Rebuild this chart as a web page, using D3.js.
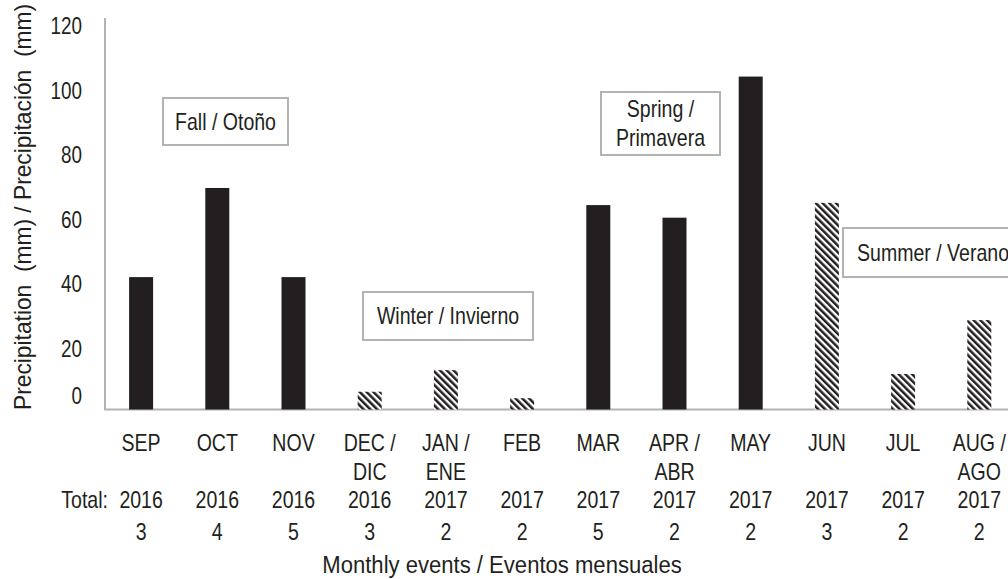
<!DOCTYPE html>
<html>
<head>
<meta charset="utf-8">
<script src="https://cdn.jsdelivr.net/npm/d3@7"></script>
<style>
  body { margin: 0; background: #fff; }
  text { font-family: "Liberation Sans", Arial, sans-serif; fill: #231f20; }
</style>
</head>
<body>
<script>
// data
var months = ["SEP", "OCT", "NOV", "DEC", "JAN", "FEB", "MAR", "APR", "MAY", "JUN", "JUL", "AUG"];
var monthLabels = [["SEP"], ["OCT"], ["NOV"], ["DEC /", "DIC"], ["JAN /", "ENE"], ["FEB"],
                   ["MAR"], ["APR /", "ABR"], ["MAY"], ["JUN"], ["JUL"], ["AUG /", "AGO"]];
var years = ["2016", "2016", "2016", "2016", "2017", "2017", "2017", "2017", "2017", "2017", "2017", "2017"];
var precipitation = [41, 68.6, 41, 5.5, 12.2, 3.5, 63.3, 59.4, 103.1, 64, 11, 27.7];
var events = [3, 4, 5, 3, 2, 2, 5, 2, 2, 3, 2, 2];
var seasons = ["fall", "fall", "fall", "winter", "winter", "winter",
               "spring", "spring", "spring", "summer", "summer", "summer"];
var yTicks = [0, 20, 40, 60, 80, 100, 120];

var width = 1008, height = 579;
var fontSize = 23;
var narrow = 0.85;   // the original uses a condensed face, squeeze text to match

var svg = d3.select("body")
            .append("svg")
            .attr("width", width)
            .attr("height", height);

// diagonal hatch for winter / summer bars
var pattern = svg.append("defs")
                 .append("pattern")
                 .attr("id", "hatch")
                 .attr("patternUnits", "userSpaceOnUse")
                 .attr("width", 4.8)
                 .attr("height", 4.8)
                 .attr("patternTransform", "rotate(-45)");
pattern.append("rect").attr("width", 4.8).attr("height", 4.8).attr("fill", "#fff");
pattern.append("rect").attr("width", 2.5).attr("height", 4.8).attr("fill", "#231f20");

var x = d3.scaleBand()
          .domain(months)
          .range([103, 1017.4])
          .padding(0);

var y = d3.scaleLinear()
          .domain([0, 120])
          .range([409.5, 22]);

var barW = x.bandwidth() * 0.315;
var cx = function (i) { return x(months[i]) + x.bandwidth() / 2; };
var squeeze = function (px, py, k) {
  return "translate(" + px + "," + py + ") scale(" + (k || narrow) + ",1)";
};

// axis lines
svg.append("line")
   .attr("x1", 105).attr("x2", 105)
   .attr("y1", 18).attr("y2", y(0))
   .attr("stroke", "#b3b3b3").attr("stroke-width", 2);

svg.append("line")
   .attr("x1", 104).attr("x2", width)
   .attr("y1", y(0)).attr("y2", y(0))
   .attr("stroke", "#b3b3b3").attr("stroke-width", 2);

// y tick labels
var yAxis = svg.append("g")
               .attr("transform", "translate(82,0)")
               .call(d3.axisLeft(y).tickValues(yTicks).tickSize(0).tickPadding(0));
yAxis.select(".domain").remove();
yAxis.selectAll("text")
     .attr("x", null)
     .attr("font-size", fontSize)
     .attr("font-family", null)
     .attr("fill", null)
     .attr("transform", "scale(0.82,1)")
     .attr("dy", function (d) { return d === 0 ? "-0.25em" : "0.5em"; });

// bars
svg.selectAll("rect.bar")
   .data(precipitation)
   .enter()
   .append("rect")
   .attr("class", "bar")
   .attr("x", function (d, i) { return x(months[i]) + (x.bandwidth() - barW) / 2; })
   .attr("y", function (d) { return y(d); })
   .attr("width", barW)
   .attr("height", function (d) { return y(0) - y(d); })
   .attr("fill", function (d, i) {
     var s = seasons[i];
     if (s === "winter" || s === "summer") { return "url(#hatch)"; }
     return "#231f20";
   });

// category labels
svg.selectAll("text.month")
   .data(monthLabels)
   .enter()
   .append("text")
   .attr("class", "month")
   .attr("text-anchor", "middle")
   .attr("font-size", fontSize)
   .attr("transform", function (d, i) { return squeeze(cx(i), 451); })
   .each(function (d) {
     var t = d3.select(this);
     d.forEach(function (line, j) {
       t.append("tspan").attr("x", 0).attr("y", j * 29).text(line);
     });
   });

svg.selectAll("text.year")
   .data(years)
   .enter()
   .append("text")
   .attr("class", "year")
   .attr("text-anchor", "middle")
   .attr("font-size", fontSize)
   .attr("transform", function (d, i) { return squeeze(cx(i), 508); })
   .text(function (d) { return d; });

svg.selectAll("text.count")
   .data(events)
   .enter()
   .append("text")
   .attr("class", "count")
   .attr("text-anchor", "middle")
   .attr("font-size", fontSize)
   .attr("transform", function (d, i) { return squeeze(cx(i), 540); })
   .text(function (d) { return d; });

svg.append("text")
   .attr("text-anchor", "end")
   .attr("font-size", fontSize)
   .attr("transform", squeeze(108, 508))
   .text("Total:");

// axis titles
svg.append("text")
   .attr("text-anchor", "middle")
   .attr("font-size", fontSize)
   .attr("transform", squeeze(502, 573, 0.96))
   .text("Monthly events / Eventos mensuales");

svg.append("text")
   .attr("text-anchor", "middle")
   .attr("font-size", fontSize)
   .attr("xml:space", "preserve")
   .style("white-space", "pre")
   .attr("transform", "translate(31,207) rotate(-90) scale(0.99,1)")
   .text("Precipitation  (mm) / Precipitación  (mm)");

// season boxes
function seasonBox(x0, y0, w, h, lines) {
  svg.append("rect")
     .attr("x", x0).attr("y", y0)
     .attr("width", w).attr("height", h)
     .attr("fill", "#fff")
     .attr("stroke", "#b3b3b3")
     .attr("stroke-width", 2);
  var t = svg.append("text")
             .attr("text-anchor", "middle")
             .attr("font-size", fontSize)
             .attr("transform", squeeze(x0 + w / 2, y0 + h / 2 - (lines.length - 1) * 14.5 + 8));
  lines.forEach(function (line, j) {
    t.append("tspan").attr("x", 0).attr("y", j * 29).text(line);
  });
}

seasonBox(163, 98, 125, 47, ["Fall / Otoño"]);
seasonBox(363, 292, 170, 48, ["Winter / Invierno"]);
seasonBox(601, 92, 119, 63, ["Spring /", "Primavera"]);
seasonBox(843, 228, 180, 49, ["Summer / Verano"]);
</script>
</body>
</html>
